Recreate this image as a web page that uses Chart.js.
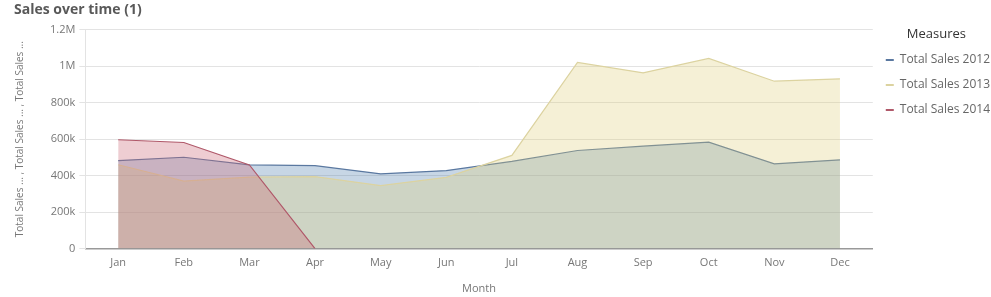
<!DOCTYPE html>
<html>
<head>
<meta charset="utf-8">
<script src="https://cdn.jsdelivr.net/npm/chart.js@4"></script>
<style>
  html, body { margin: 0; padding: 0; background: #fff; overflow: hidden; }
  #wrap { position: relative; width: 1000px; height: 297px; }
</style>
</head>
<body>
<div id="wrap"><canvas id="salesChart"></canvas></div>
<script>
/* ---- Data ---- */
const months = ["Jan", "Feb", "Mar", "Apr", "May", "Jun", "Jul", "Aug", "Sep", "Oct", "Nov", "Dec"];
const sales2012 = [483000, 501000, 459000, 455000, 410000, 428000, 478000, 538000, 562000, 584000, 465000, 487000];
const sales2013 = [460000, 370000, 392000, 395000, 345000, 391000, 511000, 1021000, 964000, 1043000, 918000, 931000];
const sales2014 = [597000, 582000, 459000, 0, null, null, null, null, null, null, null, null];
const yTicks = [0, 200000, 400000, 600000, 800000, 1000000, 1200000];
const yTickLabels = ["0", "200k", "400k", "600k", "800k", "1M", "1.2M"];

const FONT = "'Open Sans', 'Noto Sans', sans-serif";
const GREY = "#777";

/* ---- Chart ---- */
new Chart(document.getElementById("salesChart"), {
  type: "line",
  data: {
    labels: months,
    datasets: [
      {
        label: "Total Sales 2012",
        data: sales2012,
        borderColor: "#5a78a0",
        backgroundColor: "rgba(68,119,170,0.3)",
        fill: "origin",
        order: 2
      },
      {
        label: "Total Sales 2013",
        data: sales2013,
        borderColor: "#dcd3a0",
        backgroundColor: "rgba(221,204,119,0.3)",
        fill: "origin",
        order: 1
      },
      {
        label: "Total Sales 2014",
        data: sales2014,
        borderColor: "#b0596a",
        backgroundColor: "rgba(204,102,119,0.33)",
        fill: "origin",
        order: 0
      }
    ]
  },
  options: {
    responsive: true,
    maintainAspectRatio: false,
    animation: false,
    elements: {
      line: { borderWidth: 1.2, tension: 0 },
      point: { radius: 0 }
    },
    layout: { padding: { left: 14, right: 0, top: 2, bottom: 2 } },
    plugins: {
      title: {
        display: true,
        text: "Sales over time (1)",
        align: "start",
        color: "#595959",
        font: { family: FONT, size: 14, weight: "bold" },
        padding: { top: 0, bottom: 11 }
      },
      legend: {
        position: "right",
        align: "start",
        title: {
          display: true,
          text: "Measures",
          color: "#333",
          font: { family: FONT, size: 13, lineHeight: 1 },
          padding: { top: 26, bottom: 0 }
        },
        labels: {
          boxWidth: 8,
          boxHeight: 2,
          padding: 13,
          color: "#666",
          font: { family: FONT, size: 12 },
          sort: (a, b) => a.datasetIndex - b.datasetIndex,
          generateLabels: (chart) =>
            Chart.defaults.plugins.legend.labels.generateLabels(chart).map(l => ({
              ...l, fillStyle: l.strokeStyle, lineWidth: 0
            }))
        }
      },
      tooltip: { enabled: false }
    },
    scales: {
      x: {
        offset: true,
        grid: { display: false, drawTicks: false },
        border: { color: "#999", width: 1.5 },
        ticks: { color: GREY, font: { family: FONT, size: 11 }, padding: 8 },
        title: {
          display: true,
          text: "Month",
          color: GREY,
          font: { family: FONT, size: 11 },
          padding: { top: 4, bottom: 0 }
        }
      },
      y: {
        min: 0,
        max: 1200000,
        afterBuildTicks: (axis) => { axis.ticks = yTicks.map(v => ({ value: v })); },
        grid: { color: "#e3e3e3", drawTicks: true, tickLength: 6, tickColor: "#e3e3e3" },
        border: { color: "#e3e3e3" },
        ticks: {
          color: GREY,
          font: { family: FONT, size: 11 },
          padding: 4,
          callback: (v) => yTickLabels[yTicks.indexOf(v)]
        },
        title: {
          display: true,
          text: "Total Sales ... , Total Sales ... , Total Sales ...",
          color: GREY,
          font: { family: FONT, size: 10 },
          padding: { top: 0, bottom: 20 }
        }
      }
    }
  }
});
</script>
</body>
</html>
